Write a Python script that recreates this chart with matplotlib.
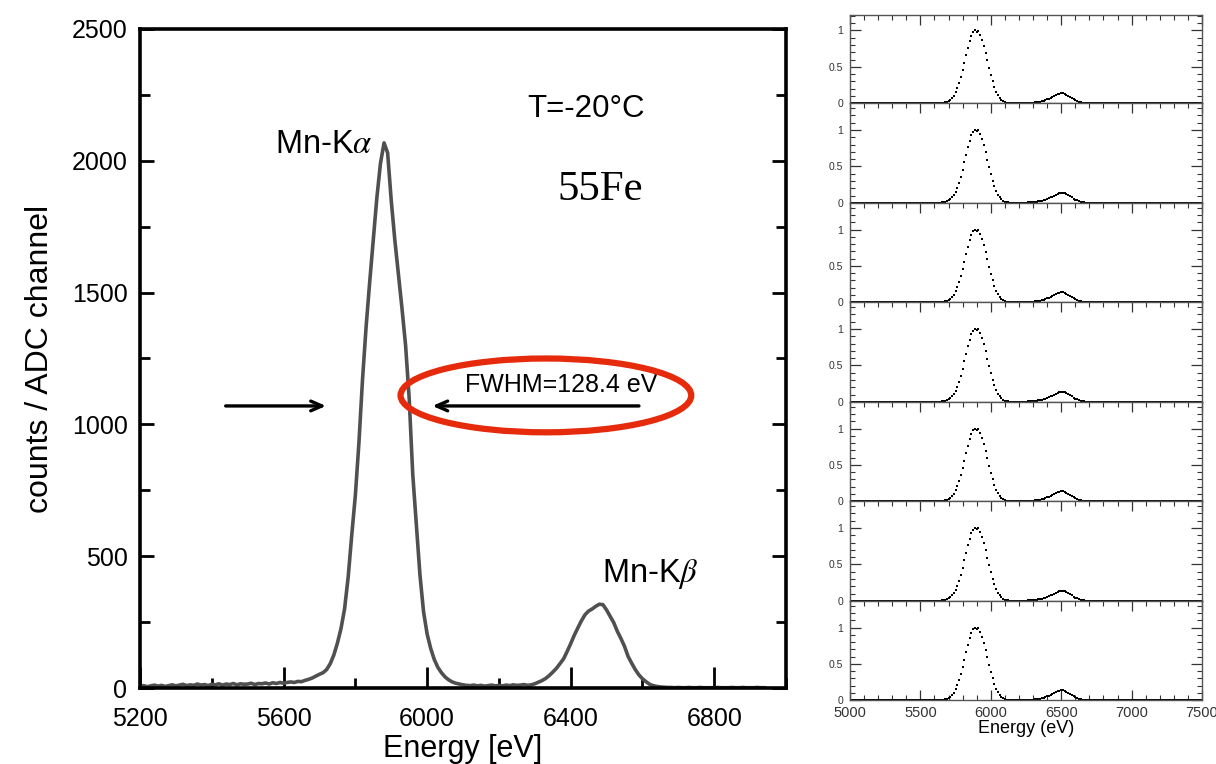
import numpy as np
import matplotlib
matplotlib.use('Agg')
import matplotlib.pyplot as plt
from matplotlib.patches import Ellipse
from matplotlib.ticker import MultipleLocator

plt.rcParams['font.family'] = ['Liberation Sans', 'DejaVu Sans']
plt.rcParams['mathtext.fontset'] = 'stix'

# ---------------- data: main 55Fe spectrum (10 eV channels) ----------------
main_energy_start = 5200
main_energy_step = 10
main_counts = [
    6, 9, 5, 8, 11, 7, 10, 6, 9, 12,
    8, 11, 14, 9, 12, 10, 15, 11, 13, 9,
    14, 12, 16, 11, 15, 13, 17, 12, 16, 14,
    15, 18, 13, 17, 16, 19, 15, 20, 17, 21,
    18, 21, 23, 21, 25, 24, 29, 33, 38, 45,
    52, 58, 70, 92, 125, 170, 225, 300, 420, 580,
    730, 930, 1170, 1370, 1540, 1700, 1860, 1990, 2068, 2030,
    1850, 1700, 1570, 1440, 1300, 1100, 810, 620, 430, 290,
    205, 150, 108, 78, 58, 42, 31, 23, 18, 15,
    12, 10, 9, 11, 8, 10, 7, 9, 11, 8,
    10, 8, 11, 9, 12, 10, 11, 13, 10, 12,
    16, 22, 28, 36, 47, 60, 74, 92, 110, 138,
    168, 200, 228, 255, 278, 292, 300, 310, 318, 316,
    296, 272, 248, 215, 188, 158, 120, 94, 70, 50,
    35, 24, 14, 9, 6, 4, 3, 2, 2, 1,
    2, 1, 1, 2, 1, 1, 2, 1, 1, 1,
    1, 2, 1, 1, 1, 2, 1, 1, 2, 1,
    1, 1, 2, 1, 1,
]
main_energy = main_energy_start + main_energy_step * np.arange(len(main_counts))

main_xticks = [5200, 5600, 6000, 6400, 6800]
main_yticks = [0, 500, 1000, 1500, 2000, 2500]

# ---------------- data: normalised spectra of the small panels (12.5 eV channels) ----------------
panel_energy_start = 5000
panel_energy_step = 12.5
panel_profile = [
    # 5000 - 5587.5
    0.002, 0.001, 0.002, 0.001, 0.003, 0.001, 0.002, 0.001, 0.002, 0.001,
    0.001, 0.002, 0.001, 0.003, 0.001, 0.002, 0.001, 0.002, 0.002, 0.001,
    0.002, 0.001, 0.002, 0.001, 0.002, 0.003, 0.001, 0.002, 0.001, 0.002,
    0.001, 0.002, 0.001, 0.002, 0.001, 0.002, 0.003, 0.001, 0.002, 0.001,
    0.002, 0.001, 0.002, 0.002, 0.001, 0.002, 0.001, 0.002,
    # 5600 - 6150
    0.001, 0.002, 0.003, 0.004, 0.006, 0.009, 0.014, 0.021, 0.032, 0.049,
    0.073, 0.107, 0.150, 0.205, 0.276, 0.360, 0.455, 0.556, 0.662, 0.765,
    0.853, 0.928, 0.975, 1.000, 0.985, 0.995, 0.945, 0.872, 0.790, 0.695,
    0.590, 0.488, 0.392, 0.302, 0.226, 0.162, 0.112, 0.074, 0.047, 0.029,
    0.017, 0.010, 0.006, 0.004, 0.003,
    # 6162.5 - 6700
    0.002, 0.002, 0.003, 0.002, 0.003, 0.003, 0.004, 0.004, 0.005, 0.006,
    0.007, 0.009, 0.011, 0.014, 0.018, 0.023, 0.029, 0.036, 0.044, 0.053,
    0.063, 0.074, 0.086, 0.098, 0.110, 0.122, 0.132, 0.140, 0.138, 0.131,
    0.120, 0.106, 0.090, 0.074, 0.058, 0.044, 0.032, 0.022, 0.015, 0.010,
    0.006, 0.004, 0.003, 0.002,
    # 6712.5 - 7500
    0.001, 0.002, 0.001, 0.002, 0.001, 0.003, 0.001, 0.002, 0.001, 0.002,
    0.002, 0.001, 0.002, 0.001, 0.002, 0.001, 0.003, 0.002, 0.001, 0.002,
    0.001, 0.002, 0.001, 0.002, 0.002, 0.001, 0.002, 0.001, 0.003, 0.001,
    0.002, 0.001, 0.002, 0.001, 0.002, 0.002, 0.001, 0.002, 0.001, 0.002,
    0.001, 0.003, 0.001, 0.002, 0.001, 0.002, 0.002, 0.001, 0.002, 0.001,
    0.002, 0.001, 0.002, 0.001, 0.003, 0.002, 0.001, 0.002, 0.001, 0.002,
    0.001, 0.002, 0.001, 0.002,
]
panel_energy = panel_energy_start + panel_energy_step * np.arange(len(panel_profile))
n_panels = 7
panel_xticks = [5000, 5500, 6000, 6500, 7000, 7500]
panel_yticks = [0, 0.5, 1]

# ---------------- figure ----------------
W, H = 1216, 764
fig = plt.figure(figsize=(W / 100, H / 100), dpi=100)

def frac_rect(x0, y_top, x1, y_bot):
    return [x0 / W, 1 - y_bot / H, (x1 - x0) / W, (y_bot - y_top) / H]

# ---- main panel ----
ax = fig.add_axes(frac_rect(140, 29, 786, 688))
ax.plot(main_energy, main_counts, color='#505050', lw=2.6, solid_joinstyle='round')
ax.set_xlim(5200, 7000)
ax.set_ylim(0, 2500)
ax.set_xticks(main_xticks)
ax.set_yticks(main_yticks)
ax.xaxis.set_minor_locator(MultipleLocator(200))
ax.yaxis.set_minor_locator(MultipleLocator(250))
for s in ax.spines.values():
    s.set_linewidth(2.6)
    s.set_color('black')
ax.tick_params(axis='x', which='major', direction='in', length=15, width=2, labelsize=18,
               pad=14, top=False)
ax.tick_params(axis='x', which='minor', direction='in', length=7, width=2, top=False)
ax.tick_params(axis='y', which='major', direction='in', length=10, width=2, labelsize=18,
               pad=9, right=True)
ax.tick_params(axis='y', which='minor', direction='in', length=7, width=2, right=True)
ax.set_xlabel('Energy [eV]', fontsize=22, labelpad=2)
ax.set_ylabel('counts / ADC channel', fontsize=23, labelpad=12)

ax.text(5576, 2030, r'Mn-K$\alpha$', fontsize=23.5, ha='left', va='baseline')
ax.text(6487, 402, r'Mn-K$\beta$', fontsize=23.5, ha='left', va='baseline')
ax.text(6278, 2166, 'T=-20°C', fontsize=22.5, ha='left', va='baseline')
ax.text(6362, 1851, '55Fe', fontsize=31, ha='left', va='baseline',
        family=['Liberation Serif', 'DejaVu Serif'])
ax.text(6106, 1123, 'FWHM=128.4 eV', fontsize=18, ha='left', va='baseline')

ax.annotate('', xy=(5726, 1070), xytext=(5431, 1070),
            arrowprops=dict(arrowstyle='->,head_length=0.8,head_width=0.35', lw=2.4, color='black'))
ax.annotate('', xy=(6007, 1070), xytext=(6598, 1070),
            arrowprops=dict(arrowstyle='->,head_length=0.8,head_width=0.35', lw=2.4, color='black'))
ax.add_patch(Ellipse((6331, 1110), 810, 280, fill=False, edgecolor='#e52b0c', lw=4.5,
                     clip_on=False, zorder=5))

# ---- stacked small panels ----
unit_px = 72.8
first_top = 15.0
zero0 = 103.3
step_px = 99.5
for k in range(n_panels):
    zero_px = zero0 + step_px * k
    top_px = first_top if k == 0 else zero_px - step_px
    a = fig.add_axes(frac_rect(850, top_px, 1202, zero_px))
    a.plot(panel_energy, panel_profile, ls='none', marker='s', ms=1.6, color='black', mew=0)
    a.set_xlim(5000, 7500)
    a.set_ylim(0, (zero_px - top_px) / unit_px)
    a.set_xticks(panel_xticks)
    a.set_yticks(panel_yticks)
    a.set_yticklabels(['0', '0.5', '1'])
    a.xaxis.set_minor_locator(MultipleLocator(100))
    a.yaxis.set_minor_locator(MultipleLocator(0.1))
    for s in a.spines.values():
        s.set_linewidth(1.0)
        s.set_color('#555555')
    last = (k == n_panels - 1)
    a.tick_params(axis='x', which='major', direction='in', length=7, width=0.9, colors='#333333',
                  top=True, bottom=last, labelbottom=last, labelsize=10.5, pad=4)
    a.tick_params(axis='x', which='minor', direction='in', length=3.5, width=0.8,
                  color='#333333', top=True, bottom=last)
    a.tick_params(axis='y', which='major', direction='in', length=8, width=0.9, colors='#333333',
                  left=True, right=True, labelsize=7.5, pad=5)
    a.tick_params(axis='y', which='minor', direction='in', length=3.5, width=0.8,
                  color='#333333', left=True, right=True)
    if last:
        a.set_xlabel('Energy (eV)', fontsize=13, labelpad=0)

fig.savefig('out.png', dpi=100)
